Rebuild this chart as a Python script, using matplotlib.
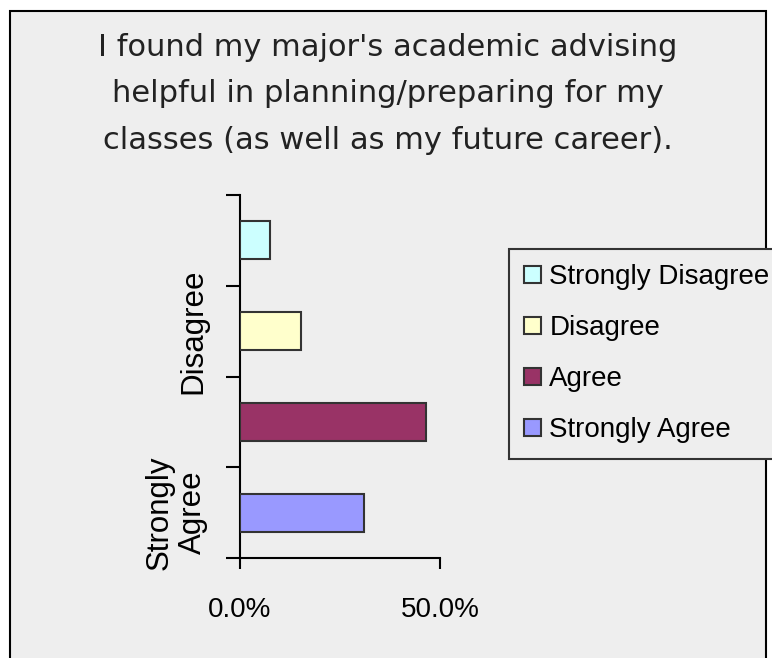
import matplotlib.pyplot as plt
from matplotlib.patches import Rectangle
from matplotlib.ticker import FuncFormatter, FixedLocator

# survey answers, top to bottom as drawn
categories = ['Strongly Disagree', 'Disagree', 'Agree', 'Strongly Agree']
shares = [0.075, 0.152, 0.464, 0.309]
colors = ['#CCFFFF', '#FFFFCC', '#993366', '#9999FF']
shown_labels = {1: 'Disagree', 3: 'Strongly\nAgree'}
title = ("I found my major's academic advising\n"
         "helpful in planning/preparing for my\n"
         "classes (as well as my future career).")

plt.rcParams['font.family'] = ['Liberation Sans', 'DejaVu Sans']
bg = '#EEEEEE'

fig = plt.figure(figsize=(7.72, 6.58), dpi=100)
fig.patch.set_facecolor('white')
# grey chart area with black frame (bottom edge runs off the picture)
frame = Rectangle((10 / 772, -0.05), 756 / 772, 1 - 11 / 658 + 0.05,
                  transform=fig.transFigure, facecolor=bg, edgecolor='black',
                  linewidth=1.5, zorder=-10)
fig.patches.append(frame)

fig.text(388 / 772, 1 - 33 / 658, title, ha='center', va='top',
         fontsize=22, color='#222222', linespacing=1.76, family='DejaVu Sans')

ax = fig.add_axes([240 / 772, 100 / 658, 200 / 772, 363 / 658])
ax.set_facecolor('none')

for i, (cat, val, col) in enumerate(zip(categories, shares, colors)):
    ax.barh(i, val, height=0.42, color=col, edgecolor='#333333',
            linewidth=1.5, label=cat, zorder=3)

ax.set_xlim(0, 0.5)
ax.set_ylim(3.5, -0.5)
ax.set_xticks([0, 0.5])
ax.xaxis.set_major_formatter(FuncFormatter(lambda v, p: '%.1f%%' % (v * 100)))
ax.yaxis.set_major_locator(FixedLocator([-0.5, 0.5, 1.5, 2.5, 3.5]))
ax.yaxis.set_ticklabels([])
ax.yaxis.set_minor_locator(FixedLocator(list(shown_labels.keys())))
ax.yaxis.set_minor_formatter(FuncFormatter(lambda v, p: shown_labels.get(int(round(v)), '')))

for s in ['top', 'right']:
    ax.spines[s].set_visible(False)
for s in ['left', 'bottom']:
    ax.spines[s].set_linewidth(1.5)
    ax.spines[s].set_color('black')

ax.tick_params(axis='x', direction='out', length=8, width=1.5,
               labelsize=20, pad=20, colors='black')
ax.tick_params(axis='y', which='major', direction='out', length=10, width=1.5)
ax.tick_params(axis='y', which='minor', length=0, labelsize=22.5, pad=23)
for lab in ax.yaxis.get_minorticklabels():
    lab.set_rotation(90)
    lab.set_va('center')
    lab.set_ha('right')
    lab.set_multialignment('center')
    lab.set_linespacing(1.15)

leg = ax.legend(loc='upper left', bbox_to_anchor=(509 / 772, 1 - 249 / 658),
                bbox_transform=fig.transFigure, fontsize=20, frameon=True,
                fancybox=False, borderaxespad=0, handlelength=0.6,
                handleheight=0.6, handletextpad=0.3, labelspacing=0.9,
                borderpad=0.55)
leg.get_frame().set_edgecolor('#333333')
leg.get_frame().set_linewidth(1.5)
leg.get_frame().set_facecolor(bg)
leg.get_frame().set_alpha(None)

fig.savefig('out.png', dpi=100, facecolor=fig.get_facecolor())
